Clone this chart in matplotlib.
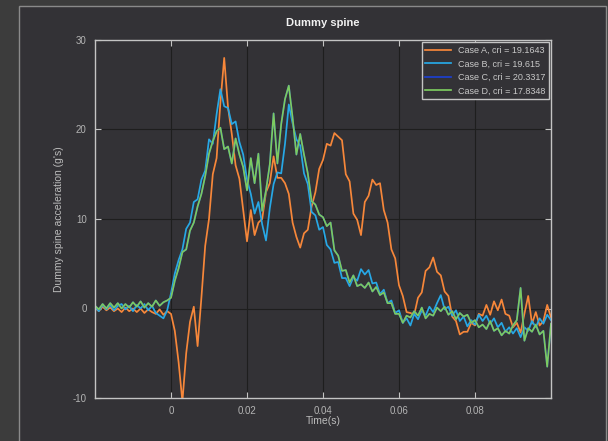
import numpy as np
import matplotlib
matplotlib.use('Agg')
import matplotlib.pyplot as plt
from matplotlib.patches import Rectangle

plt.rcParams['font.family'] = ['Liberation Sans', 'DejaVu Sans']
plt.rcParams['axes.unicode_minus'] = False

# Time axis: 1 ms samples from -0.02 s to 0.1 s
t_start, t_end = -0.02, 0.1

# Dummy spine acceleration (g's)
case_a = [0.1, -0.3, 0.2, -0.2, 0.1, -0.3, 0.0, -0.4, 0.1, -0.3,
          0.0, -0.4, 0.0, -0.5, -0.1, -0.4, -0.6, -0.1, -0.7, -0.3,
          -0.6, -2.5, -6.0, -10.4, -5.0, -1.5, 0.2, -4.2, 1.2, 7.0,
          10.0, 15.0, 16.8, 23.0, 28.0, 22.5, 19.5, 16.0, 14.5, 11.0,
          7.5, 11.0, 8.2, 9.6, 10.0, 13.0, 14.0, 17.0, 14.6, 14.6,
          14.0, 12.8, 9.6, 8.0, 6.8, 8.4, 8.8, 11.4, 13.0, 15.6,
          16.6, 18.4, 18.2, 19.6, 19.2, 18.8, 15.0, 14.2, 10.6, 9.9,
          8.2, 11.9, 12.6, 14.4, 13.8, 14.0, 11.0, 9.6, 6.6, 5.6,
          2.6, 1.4, -0.4, -0.5, -0.7, 1.2, 1.8, 4.2, 4.6, 5.7,
          4.1, 3.7, 1.9, 1.4, -0.9, -1.4, -2.9, -2.6, -2.6, -1.6,
          -1.9, -0.6, -0.8, 0.4, -0.7, 0.8, -0.2, 1.0, -0.6, -0.8,
          -2.1, -1.6, -2.7, -0.6, 1.4, -1.7, -0.4, -1.9, -1.4, 0.4, -1.0]

case_b = [0.2, -0.3, 0.4, -0.1, 0.4, -0.2, 0.3, 0.5, -0.1, 0.3,
          -0.3, 0.4, 0.0, 0.5, -0.2, 0.3, -0.5, -0.8, -1.1, -0.2,
          1.7, 3.9, 5.4, 6.6, 8.9, 9.6, 11.9, 12.2, 14.4, 15.4,
          18.9, 18.4, 21.7, 24.5, 22.6, 22.4, 20.6, 20.9, 18.6, 17.2,
          14.4, 12.8, 10.6, 11.9, 9.4, 7.6, 11.2, 13.9, 15.2, 15.1,
          18.4, 22.8, 20.7, 18.9, 18.2, 15.1, 13.9, 10.8, 10.4, 8.8,
          9.1, 7.1, 6.6, 5.1, 5.2, 3.4, 3.4, 2.5, 3.5, 3.1,
          4.4, 3.8, 4.3, 2.8, 2.9, 1.6, 2.1, 0.6, 0.9, -0.5,
          -0.2, -1.6, -1.1, -1.9, -0.6, -1.2, -0.2, -0.8, 0.2, -0.4,
          0.6, 1.5, -0.1, 0.2, -0.8, -0.2, -1.4, -0.9, -2.0, -1.3,
          -1.8, -0.7, -1.4, -0.8, -1.7, -1.1, -2.1, -1.6, -2.6, -2.1,
          -2.8, -2.2, -3.2, -2.1, -2.5, -1.4, -2.1, -1.1, -1.7, -0.7, -1.3]

case_d = [0.3, -0.1, 0.5, 0.0, 0.6, 0.1, 0.6, 0.0, 0.5, 0.1,
          0.7, 0.2, 0.8, 0.1, 0.6, 0.2, 0.9, 0.3, 0.7, 0.9,
          1.2, 3.1, 4.5, 6.3, 6.6, 8.7, 9.6, 11.4, 12.8, 14.8,
          17.3, 18.7, 19.8, 20.2, 17.8, 18.1, 16.2, 19.0, 17.2, 15.8,
          13.2, 16.8, 14.0, 17.3, 10.9, 13.2, 16.1, 21.8, 16.2, 20.6,
          23.4, 24.9, 21.3, 17.2, 19.5, 17.2, 15.1, 12.0, 11.6, 10.5,
          10.2, 9.2, 9.6, 6.5, 5.9, 4.2, 4.3, 2.9, 3.7, 2.5,
          2.7, 2.3, 2.9, 1.9, 2.4, 1.5, 1.8, 0.6, 0.6, -0.6,
          -0.6, -1.6, -0.8, -1.0, -0.3, -0.8, 0.1, -1.1, -0.6, -0.8,
          0.1, -0.3, 0.2, -0.7, -0.3, -1.2, -0.5, -0.9, -0.7, -1.6,
          -1.3, -2.1, -1.8, -2.3, -1.4, -2.5, -2.2, -3.0, -2.5, -2.8,
          -1.9, -1.3, 2.3, -3.6, -2.2, -2.6, -1.8, -2.9, -2.5, -6.5, -1.7]

# case C sits under case D in the picture
case_c = list(case_d)

labels = ['Case A, cri = 19.1643', 'Case B, cri = 19.615',
          'Case C, cri = 20.3317', 'Case D, cri = 17.8348']
colors = ['#f7873a', '#27a8e6', '#1c3fcf', '#7ccb5f']

bg_out = '#3c3c3c'
bg_in = '#333236'
fg = '#bcbcbc'

fig = plt.figure(figsize=(6.08, 4.41), dpi=100, facecolor=bg_out)
fig.patches.append(Rectangle((19 / 608, -0.05), 587 / 608, 1.05 - 6 / 441,
                             transform=fig.transFigure, facecolor=bg_in,
                             edgecolor='#8a8a8a', linewidth=1.0, zorder=-10))

ax = fig.add_axes([95 / 608, 1 - 398 / 441, 456 / 608, 358 / 441])
ax.set_zorder(5)
ax.set_facecolor(bg_in)

for vals, lab, col in zip([case_a, case_b, case_c, case_d], labels, colors):
    t = np.linspace(t_start, t_end, len(vals))
    ax.plot(t, vals, color=col, linewidth=1.25, label=lab)

ax.set_xlim(t_start, t_end)
ax.set_ylim(-10, 30)
ax.set_xticks([0, 0.02, 0.04, 0.06, 0.08])
ax.set_xticklabels(['0', '0.02', '0.04', '0.06', '0.08'])
ax.set_yticks([-10, 0, 10, 20, 30])

ax.grid(True, color='#1e1e1e', linewidth=0.8)
ax.set_axisbelow(True)
for s in ax.spines.values():
    s.set_color('#c4c4c4')
    s.set_linewidth(1.0)
ax.tick_params(direction='in', length=4, width=0.8, colors='#c4c4c4',
               labelcolor='#b4b4b4', labelsize=7, top=True, right=True, pad=6)

ax.set_xlabel('Time(s)', color=fg, fontsize=7.5, labelpad=0)
ax.set_ylabel("Dummy spine acceleration (g's)", color=fg, fontsize=7.5, labelpad=6)
ax.set_title('Dummy spine', color='#f2f2f2', fontsize=8, fontweight='bold', pad=10)

leg = ax.legend(loc='upper right', fontsize=6.5, frameon=True, fancybox=False,
                borderaxespad=0.25, handlelength=2.8, labelspacing=0.5)
leg.get_frame().set_facecolor(bg_in)
leg.get_frame().set_edgecolor('#c4c4c4')
leg.get_frame().set_alpha(1.0)
for txt in leg.get_texts():
    txt.set_color('#c8c8c8')

fig.savefig('out.png', dpi=100, facecolor=bg_out)
